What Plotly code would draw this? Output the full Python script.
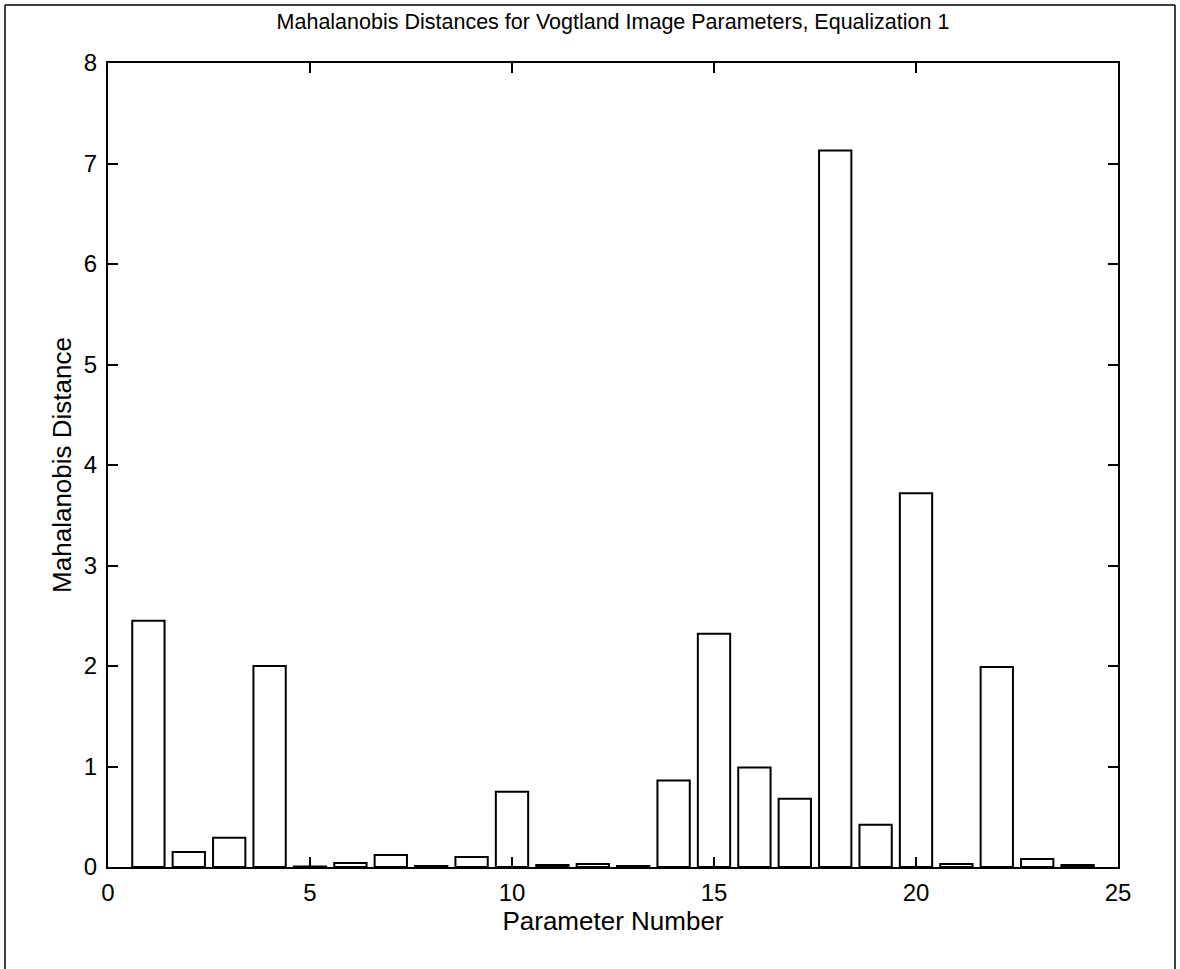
import plotly.graph_objects as go

params = list(range(1, 25))
distances = [2.45, 0.15, 0.29, 2.00, 0.005, 0.04, 0.12, 0.01, 0.10, 0.75,
             0.02, 0.03, 0.01, 0.86, 2.32, 0.99, 0.68, 7.13, 0.42, 3.72,
             0.03, 1.99, 0.08, 0.02]
x_ticks = [0, 5, 10, 15, 20, 25]
y_ticks = [0, 1, 2, 3, 4, 5, 6, 7, 8]

W, H = 1180, 969
L, R, T, B = 108, 62, 63, 102

fig = go.Figure()
fig.add_trace(go.Bar(
    x=params, y=distances, width=0.8,
    marker=dict(color="white", line=dict(color="black", width=2)),
    showlegend=False,
))

font_family = "Liberation Sans, Arial, Helvetica, sans-serif"
axis_common = dict(
    showline=True, linecolor="black", linewidth=2, mirror="ticks",
    ticks="inside", ticklen=10, tickwidth=1.5, tickcolor="black",
    showgrid=False, zeroline=False,
    tickfont=dict(family=font_family, size=24, color="black"),
)

fig.update_layout(
    width=W, height=H,
    margin=dict(l=L, r=R, t=T, b=B),
    paper_bgcolor="white", plot_bgcolor="white",
    title=dict(
        text="Mahalanobis Distances for Vogtland Image Parameters, Equalization 1",
        x=(L + (W - L - R) / 2) / W, xanchor="center",
        y=1 - 21 / H, yanchor="middle",
        font=dict(family=font_family, size=21.5, color="black"),
    ),
    xaxis=dict(range=[0, 25], tickvals=x_ticks, ticklabelstandoff=3,
               title=dict(text="Parameter Number", standoff=0,
                          font=dict(family=font_family, size=26, color="black")),
               **axis_common),
    yaxis=dict(range=[0, 8], tickvals=y_ticks, ticklabelstandoff=4,
               title=dict(text="Mahalanobis Distance", standoff=5,
                          font=dict(family=font_family, size=26, color="black")),
               **axis_common),
    bargap=0.2,
)

# outer frame around the figure
pw, ph = W - L - R, H - T - B
def px_to_paper_x(px):
    return (px - L) / pw
def py_to_paper_y(py):
    return (H - B - py) / ph

x0, x1 = px_to_paper_x(5), px_to_paper_x(1175)
y0, y1 = py_to_paper_y(969), py_to_paper_y(5)
for (xa, ya, xb, yb) in [(x0, y0, x0, y1), (x0, y1, x1, y1), (x1, y1, x1, y0)]:
    fig.add_shape(type="line", xref="paper", yref="paper",
                  x0=xa, y0=ya, x1=xb, y1=yb,
                  line=dict(color="black", width=1.5))

fig.write_html("out.html")
